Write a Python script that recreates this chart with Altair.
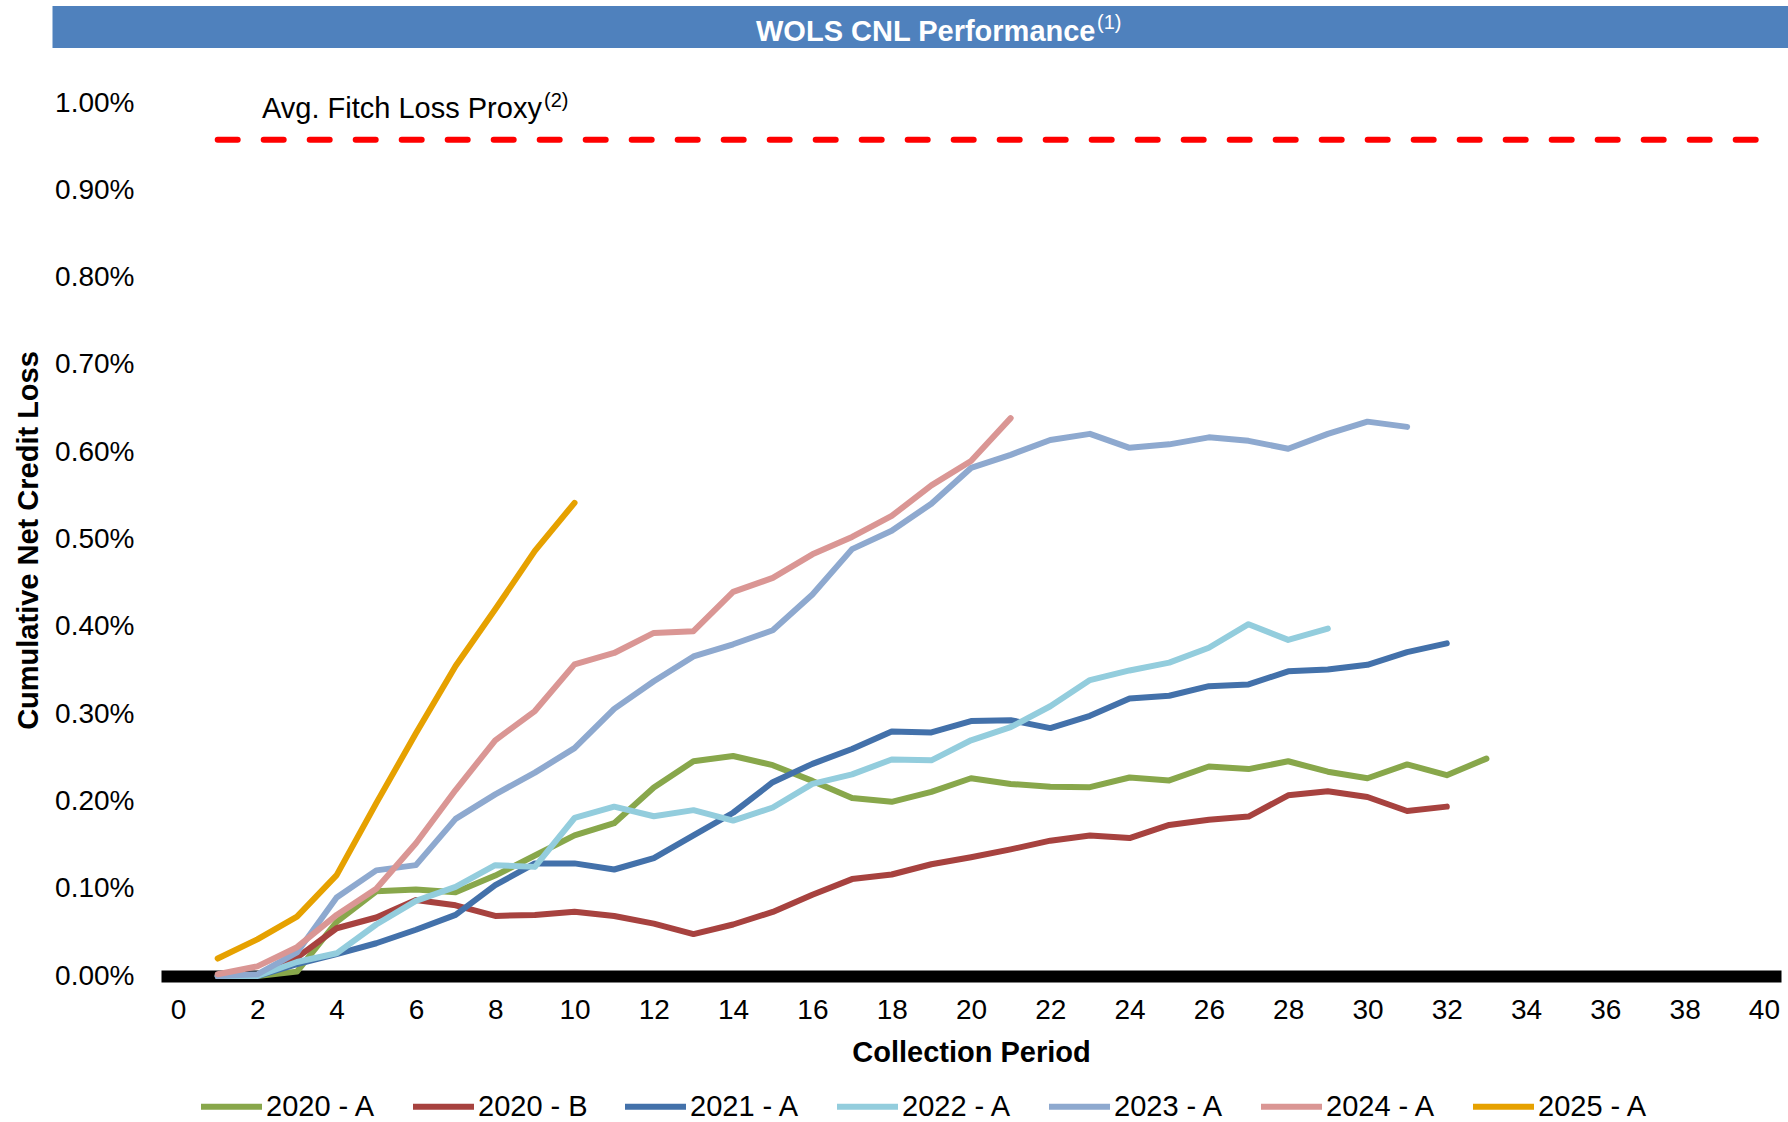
import altair as alt
import pandas as pd

FONT = "Liberation Sans"

series_names = ["2020 - A", "2020 - B", "2021 - A", "2022 - A", "2023 - A", "2024 - A", "2025 - A"]
series_colors = ["#88A74B", "#A7423F", "#4371AA", "#93CDDD", "#8EA9CF", "#DA9694", "#E6A100"]

# cumulative net credit loss, in percent, by collection period starting at 1
cnl_2020_a = [0.0, 0.0, 0.005, 0.062, 0.097, 0.099, 0.096, 0.115, 0.138, 0.161, 0.175, 0.216,
              0.246, 0.252, 0.2415, 0.2235, 0.204, 0.1995, 0.211, 0.2265, 0.22, 0.2167, 0.2163,
              0.2274, 0.224, 0.240, 0.237, 0.246, 0.234, 0.2265, 0.2424, 0.23, 0.249]
cnl_2020_b = [0.0, 0.0, 0.021, 0.0547, 0.067, 0.087, 0.081, 0.0688, 0.070, 0.0737, 0.0688, 0.060,
              0.048, 0.059, 0.0734, 0.093, 0.111, 0.1163, 0.128, 0.136, 0.145, 0.155, 0.161,
              0.158, 0.173, 0.179, 0.1826, 0.207, 0.2116, 0.205, 0.189, 0.194]
cnl_2021_a = [0.0, 0.0, 0.0135, 0.025, 0.0375, 0.053, 0.070, 0.104, 0.129, 0.129, 0.122, 0.135,
              0.161, 0.187, 0.222, 0.243, 0.26, 0.28, 0.279, 0.292, 0.293, 0.284, 0.298, 0.318,
              0.321, 0.332, 0.334, 0.349, 0.351, 0.3565, 0.371, 0.381]
cnl_2022_a = [0.0, 0.0, 0.016, 0.026, 0.059, 0.086, 0.102, 0.127, 0.125, 0.181, 0.194, 0.183,
              0.19, 0.178, 0.193, 0.22, 0.231, 0.248, 0.247, 0.27, 0.285, 0.309, 0.339, 0.35,
              0.359, 0.376, 0.403, 0.385, 0.398]
cnl_2023_a = [0.0, 0.002, 0.027, 0.09, 0.121, 0.127, 0.18, 0.208, 0.233, 0.261, 0.306, 0.3376,
              0.366, 0.38, 0.396, 0.437, 0.489, 0.51, 0.541, 0.582, 0.597, 0.614, 0.621, 0.605,
              0.609, 0.617, 0.613, 0.604, 0.621, 0.635, 0.629]
cnl_2024_a = [0.002, 0.011, 0.033, 0.070, 0.10, 0.152, 0.213, 0.27, 0.3035, 0.357, 0.37, 0.393,
              0.395, 0.44, 0.456, 0.483, 0.503, 0.527, 0.562, 0.59, 0.639]
cnl_2025_a = [0.02, 0.042, 0.068, 0.1155, 0.198, 0.278, 0.355, 0.42, 0.487, 0.542]

fitch_proxy = 0.958          # percent
fitch_start, fitch_end = 1, 40

x_ticks = list(range(0, 41, 2))
y_ticks = [i / 1000 for i in range(0, 11)]

all_series = [cnl_2020_a, cnl_2020_b, cnl_2021_a, cnl_2022_a, cnl_2023_a, cnl_2024_a, cnl_2025_a]
rows = []
for name, vals in zip(series_names, all_series):
    for i, v in enumerate(vals, start=1):
        rows.append({"series": name, "period": i, "cnl": v / 100})
df = pd.DataFrame(rows)

x_axis = alt.Axis(values=x_ticks, format="d", title="Collection Period",
                  titleFont=FONT, titleFontSize=29, titleFontWeight="bold", titleColor="black",
                  titleY=85.5, titleBaseline="alphabetic",
                  labelFont=FONT, labelFontSize=28, labelColor="black", labelBaseline="alphabetic",
                  labelPadding=42, ticks=False, tickSize=0, domain=True, domainColor="black",
                  domainWidth=12, grid=False, labelFlush=False, labelOverlap=False)
y_axis = alt.Axis(values=y_ticks, format=".2%", title="Cumulative Net Credit Loss",
                  titleFont=FONT, titleFontSize=29, titleFontWeight="bold", titleColor="black",
                  titleAngle=270, titleX=-123.5, titleY=437, titleAlign="center",
                  titleBaseline="alphabetic",
                  labelFont=FONT, labelFontSize=28, labelColor="black", labelPadding=27,
                  ticks=False, tickSize=0, domain=False, grid=False,
                  labelFlush=False, labelOverlap=False)

x_scale = alt.Scale(domain=[-0.43, 40.43], nice=False, zero=False)
y_scale = alt.Scale(domain=[0, 0.01], nice=False, zero=False)

lines = alt.Chart(df).mark_line(strokeWidth=6, strokeCap="round", strokeJoin="round").encode(
    x=alt.X("period:Q", scale=x_scale, axis=x_axis),
    y=alt.Y("cnl:Q", scale=y_scale, axis=y_axis),
    color=alt.Color("series:N",
                    scale=alt.Scale(domain=series_names, range=series_colors),
                    legend=alt.Legend(orient="none", legendX=37, legendY=970,
                                      direction="horizontal", columns=7, title=None,
                                      symbolType="stroke", symbolSize=3721, symbolStrokeWidth=6,
                                      labelFont=FONT, labelFontSize=29, labelColor="black",
                                      labelOffset=1, columnPadding=25, padding=0)),
)

fitch_df = pd.DataFrame({"period": [fitch_start], "period_end": [fitch_end],
                         "cnl": [fitch_proxy / 100]})
fitch = alt.Chart(fitch_df).mark_rule(color="#FF0000", strokeWidth=6, strokeDash=[20, 26],
                                      strokeCap="round").encode(
    x=alt.X("period:Q", title="Collection Period"),
    x2="period_end:Q",
    y=alt.Y("cnl:Q", title="Cumulative Net Credit Loss"),
)


def text_layer(txt, x, y, size, bold=False, color="black"):
    return alt.Chart(pd.DataFrame({"t": [txt]})).mark_text(
        align="left", baseline="alphabetic", fontSize=size,
        fontWeight="bold" if bold else "normal", color=color, font=FONT
    ).encode(text="t:N", x=alt.value(x), y=alt.value(y))


banner = alt.Chart(pd.DataFrame({"t": [0]})).mark_rect(color="#4F81BD").encode(
    x=alt.value(-108.5), x2=alt.value(1627), y=alt.value(-97), y2=alt.value(-55)
)

title_txt = text_layer("WOLS CNL Performance", 595, -62, 29, bold=True, color="white")
title_sup = text_layer("(1)", 936, -74, 20, color="white")
fitch_txt = text_layer("Avg. Fitch Loss Proxy", 101, 15, 29)
fitch_sup = text_layer("(2)", 383, 3.5, 20)

chart = alt.layer(banner, title_txt, title_sup, fitch, fitch_txt, fitch_sup, lines).properties(
    width=1620, height=873,
    padding={"left": 161, "top": 103, "right": 7, "bottom": 146},
    autosize=alt.AutoSizeParams(type="none"),
).configure(font=FONT, background="white").configure_view(stroke=None, strokeWidth=0)

chart.save("out.html", embed_options={"renderer": "svg", "actions": False})
